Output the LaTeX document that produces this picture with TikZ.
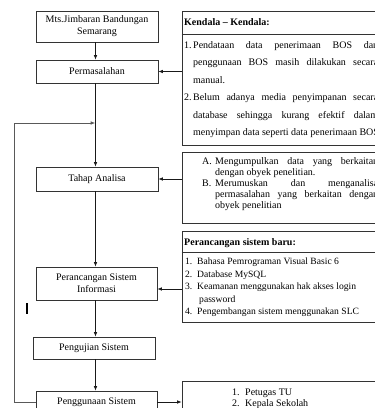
\documentclass[tikz,border=0pt]{standalone}
\usepackage{fontspec}
\setmainfont{Liberation Serif}
\usetikzlibrary{arrows.meta}
\newcommand\myfs{\fontsize{10}{12}\selectfont}
\newcommand\mysfs{\fontsize{9.6}{11.5}\selectfont}
\begin{document}
\begin{tikzpicture}[x=1pt,y=-1pt,
  lbox/.style={draw=black!80, line width=0.7pt, align=center, inner sep=1pt, font=\myfs},
  rbox/.style={draw=black!80, line width=0.7pt, inner sep=0pt},
  arr/.style={-{Latex[length=4.5pt,width=3.5pt]}, line width=0.7pt, draw=black!90},
  loop/.style={arr, draw=black!65},
  t/.style={inner sep=0pt, anchor=base west, font=\myfs},
  ts/.style={inner sep=0pt, anchor=base west, font=\mysfs},
  sep/.style={draw=black!80, line width=0.7pt},
]
\fill[white] (0,0) rectangle (375,408);
\useasboundingbox (0,0) rectangle (375,408);
\clip (0,0) rectangle (375,408);

% left column
\node[lbox, minimum width=122pt, minimum height=31pt] (mts) at (97,26.5) {Mts.Jimbaran Bandungan\\Semarang};
\node[lbox, minimum width=122pt, minimum height=23pt] (perm) at (97,71.5) {Permasalahan};
\node[lbox, minimum width=122pt, minimum height=24pt] (tahap) at (97,179) {Tahap Analisa};
\node[lbox, minimum width=121pt, minimum height=33pt] (psi) at (96.5,283.5) {Perancangan Sistem\\Informasi};
\node[lbox, minimum width=122pt, minimum height=22pt] (uji) at (94,348) {Pengujian Sistem};
\node[lbox, minimum width=121pt, minimum height=22pt] (pg) at (96.5,402) {Penggunaan Sistem};

\coordinate (ax) at (95.5,0);
\draw[arr] (mts.south -| ax) -- (perm.north -| ax);
\draw[arr] (perm.south -| ax) -- (tahap.north -| ax);
\draw[arr] (tahap.south -| ax) -- (psi.north -| ax);
\draw[arr] (psi.south -| ax) -- (uji.north -| ax);
\draw[arr] (uji.south -| ax) -- (pg.north -| ax);

\coordinate (loopc) at (14,123);
\coordinate (fb) at (95.2,123);
\draw[loop] (pg.west) -| (loopc) -- (fb);

\draw[line width=1.1pt] (27,303) -- (27,314);

% right column boxes
\node[rbox, minimum width=198pt, minimum height=134pt] (kend) at (281,78) {};
\node[rbox, minimum width=198pt, minimum height=71pt] (anl) at (281,187.5) {};
\node[rbox, minimum width=198pt, minimum height=91pt] (baru) at (281,276.5) {};
\node[rbox, minimum width=198pt, minimum height=39pt] (usr) at (281,400.5) {};

\coordinate (s1) at (0,34);
\coordinate (s2) at (0,252);
\draw[sep] (kend.west |- s1) -- (kend.east |- s1);
\draw[sep] (baru.west |- s2) -- (baru.east |- s2);

\draw[arr] (perm.east -| kend.west) -- (perm.east);
\draw[arr] (tahap.east -| anl.west) -- (tahap.east);
\coordinate (y3) at (0,289);
\draw[arr] (baru.west |- y3) -- (psi.east |- y3);
\draw[arr] (pg.east) -- (pg.east -| usr.west);

% Kendala text
\node[t] (k0) at (184,25) {\bfseries Kendala -- Kendala:};
\node[t] (k1n) at (184,48) {1.};
\node[t] (k1) at (193,48) {\makebox[185pt][s]{Pendataan data penerimaan BOS dan}};
\node[t] (k2) at (193,65.5) {\makebox[185pt][s]{penggunaan BOS masih dilakukan secara}};
\node[t] (k3) at (193,83) {manual.};
\node[t] (k4n) at (184,100.5) {2.};
\node[t] (k4) at (193,100.5) {\makebox[185pt][s]{Belum adanya media penyimpanan secara}};
\node[t] (k5) at (193,118) {\makebox[185pt][s]{database sehingga kurang efektif dalam}};
\node[t] (k6) at (193,135.5) {menyimpan data seperti data penerimaan BOS};

% Analisa text
\node[t] (a1n) at (202,164.5) {A.};
\node[t] (a1) at (215,164.5) {\makebox[163pt][s]{Mengumpulkan data yang berkaitan}};
\node[t] (a2) at (215,175.5) {dengan obyek penelitian.};
\node[t] (a3n) at (202,186.5) {B.};
\node[t] (a3) at (215,186.5) {\makebox[163pt][s]{Merumuskan dan menganalisa}};
\node[t] (a4) at (215,197.5) {\makebox[163pt][s]{permasalahan yang berkaitan dengan}};
\node[t] (a5) at (215,208.5) {obyek penelitian};

% Perancangan baru text
\node[t] (b0) at (184,245.5) {\bfseries Perancangan sistem baru:};
\node[ts] (b1n) at (185,264.5) {1.};
\node[ts] (b1) at (197,264.5) {Bahasa Pemrograman Visual Basic 6};
\node[ts] (b2n) at (185,277) {2.};
\node[ts] (b2) at (197,277) {Database MySQL};
\node[ts] (b3n) at (185,289.5) {3.};
\node[ts] (b3) at (197,289.5) {Keamanan menggunakan hak akses login};
\node[ts] (b4) at (199,302) {password};
\node[ts] (b5n) at (185,314.5) {4.};
\node[ts] (b5) at (197,314.5) {Pengembangan sistem menggunakan SLC};

% Users text
\node[t] (u1n) at (232,395.5) {1.};
\node[t] (u1) at (245,395.5) {Petugas TU};
\node[t] (u2n) at (232,406.5) {2.};
\node[t] (u2) at (245,406.5) {Kepala Sekolah};
\end{tikzpicture}
\end{document}
